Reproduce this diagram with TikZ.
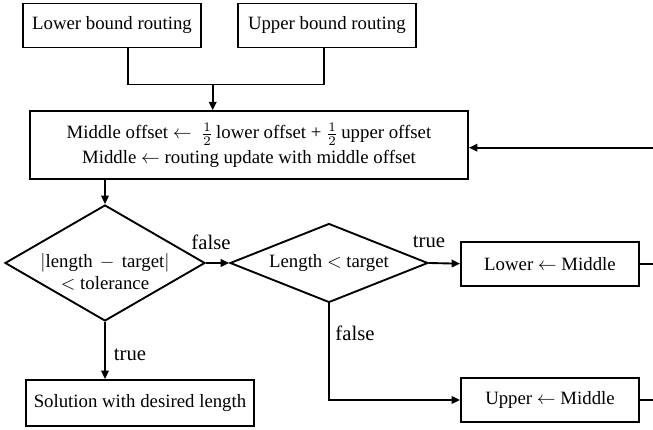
\documentclass[tikz,border=0pt]{standalone}
\usepackage{amsmath}
\usepackage{fontspec}
\setmainfont{Liberation Serif}
\usetikzlibrary{shapes.geometric, arrows.meta, positioning}

\begin{document}
\begin{tikzpicture}[
    x=0.532pt, y=-0.532pt,
    line width=1pt,
    box/.style={rectangle, draw, line width=1pt, minimum width=94.7pt, minimum height=23.4pt, align=center, inner sep=2pt},
    decision/.style={diamond, draw, line width=1pt, inner sep=0pt, align=center},
    arrow/.style={-{Triangle[length=4.5pt, width=4pt]}, line width=1pt},
    branchlabel/.style={font=\fontsize{11}{13}\selectfont, inner sep=0pt}
]
\useasboundingbox (0,0) rectangle (653,430);

\node[box] (lbr) at (112,25.5) {Lower bound routing};
\node[box, right=18.6pt of lbr] (ubr) {Upper bound routing};
\node[box, minimum width=233pt, minimum height=36pt] (mid) at (249,145) {Middle offset $\leftarrow$\enspace$\frac{1}{2}$\,lower offset + $\frac{1}{2}$\,upper offset\\[1pt]Middle $\leftarrow$ routing update with middle offset};

\node[decision, minimum width=106.4pt, minimum height=61.7pt,
      label={[align=center, yshift=-4.8pt]center:$|\text{length}\,-\,\text{target}|$\\$<$ tolerance}] (tol) at (105,263) {};
\node[decision, aspect=2.5, minimum width=105.3pt, minimum height=42pt] (cmp) at (329,263) {Length $<$ target};

\node[box] (low) at (550,263.7) {Lower $\leftarrow$ Middle};
\node[box] (upp) at (550,400) {Upper $\leftarrow$ Middle};
\node[box, minimum width=121pt, minimum height=24.5pt] (sol) at (140,403) {Solution with desired length};

\node[branchlabel] (fa1) at (211,242) {false};
\node[branchlabel] (tr1) at (429,242) {true};
\node[branchlabel] (fa2) at (355,333) {false};
\node[branchlabel] (tr2) at (130,355) {true};

\coordinate (jn) at (212.7,84.5);
\coordinate (rim) at (653,147.7);

\draw (lbr.south) ++(16,0) |- (jn);
\draw (ubr.south) ++(-3,0) |- (jn);
\draw[arrow] (jn) -- (jn |- mid.north);
\draw[arrow] (mid.south -| tol.north) -- (tol.north);
\draw[arrow] (tol.east) -- (cmp.west);
\draw[arrow] (cmp.east) -- (low.west);
\draw[arrow] (cmp.south) |- (upp.west);
\draw[arrow] (tol.south) -- (sol.north -| tol.south);
\draw (low.east) -- (low.east -| rim);
\draw (upp.east) -- (upp.east -| rim);
\draw[arrow] (rim) -- (rim -| mid.east);
\end{tikzpicture}
\end{document}
